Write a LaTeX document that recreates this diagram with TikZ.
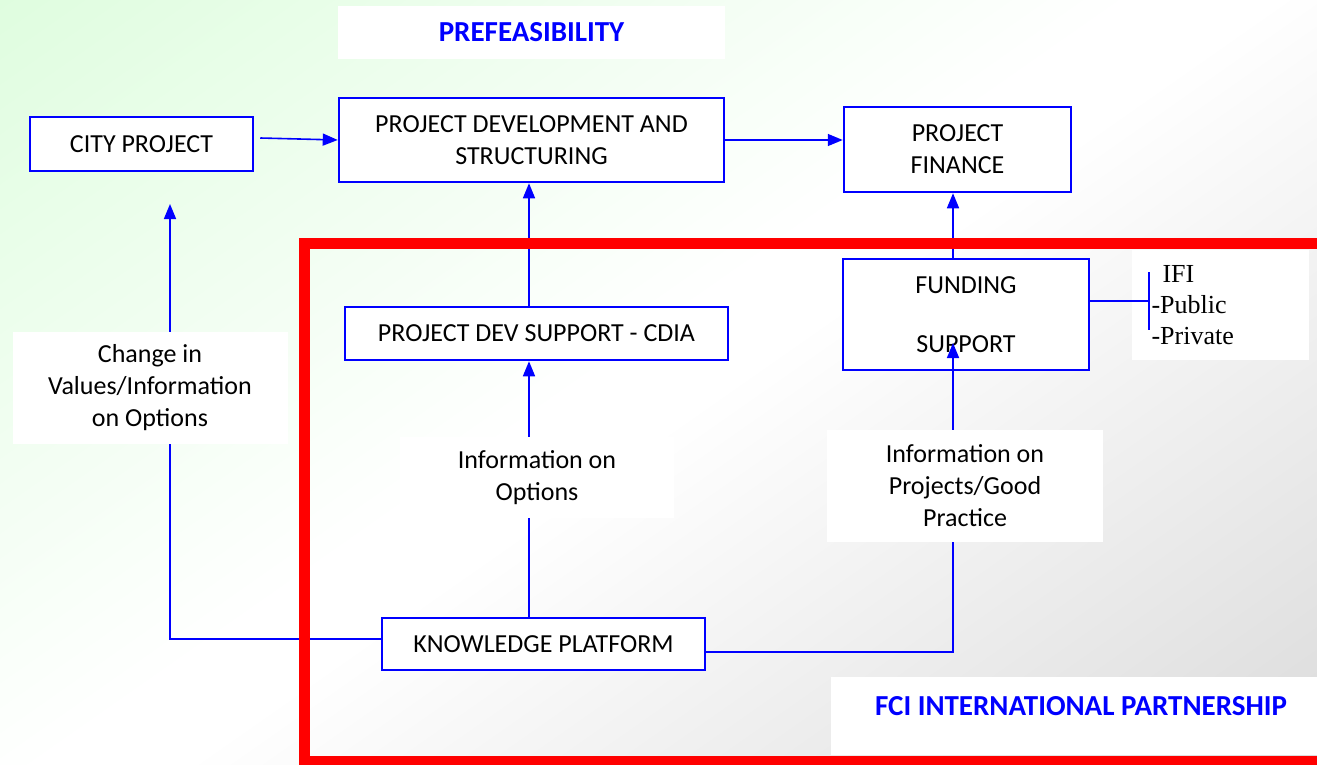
\documentclass[tikz,border=0pt]{standalone}
\usepackage{fontspec}
\setmainfont{Carlito}
\newfontfamily\listfont{Liberation Serif}
\usetikzlibrary{positioning,arrows.meta,calc}
\pgfdeclarelayer{background}
\pgfdeclarelayer{links}
\pgfdeclarelayer{frame}
\pgfsetlayers{background,links,frame,main}
\definecolor{paleGreen}{RGB}{222,253,222}
\definecolor{paleGray}{RGB}{218,218,218}
\pgfdeclarehorizontalshading{wash}{100bp}{color(0bp)=(paleGreen); color(14bp)=(paleGreen);
  color(48bp)=(white); color(52bp)=(white); color(86bp)=(paleGray); color(100bp)=(paleGray)}

\begin{document}
\begin{tikzpicture}[
  x=1pt, y=-1pt,
  >={Triangle[length=15pt,width=12pt]},
  every node/.style={font=\fontsize{26}{32}\selectfont},
  box/.style={draw=blue, line width=2.5pt, fill=white, align=center, inner sep=0pt},
  note/.style={fill=white, align=center, inner sep=0pt},
  title/.style={note, text=blue, font=\fontsize{29}{32}\selectfont\bfseries},
  link/.style={blue, line width=1.6pt}
]
\useasboundingbox (0,0) rectangle (1317,765);

% 背景
\begin{pgfonlayer}{background}
  \shade[shading=wash, shading angle=-55] (0,0) rectangle (1317,765);
\end{pgfonlayer}

% 上段
\node[title, minimum width=387, minimum height=53] (prefeas) at (531.5,32.5) {PREFEASIBILITY};
\node[box, minimum width=223, minimum height=54] (city) at (141.5,144) {CITY PROJECT};
\node[box, minimum width=385, minimum height=84] (pds) at (531.5,140)
  {PROJECT DEVELOPMENT AND\\STRUCTURING};
\node[box, minimum width=227, minimum height=85] (pf) at (957.5,149.5) {PROJECT\\FINANCE};

% 枠の中
\node[box, minimum width=383, minimum height=53] (devsup) at (536.5,333.5)
  {PROJECT DEV SUPPORT - CDIA};
\node[box, minimum width=246, minimum height=111] (funding) at (966,314.5)
  {FUNDING\\[27pt]SUPPORT};
\node[box, minimum width=323, minimum height=52] (kp) at (543.5,644) {KNOWLEDGE PLATFORM};
\node[note, minimum width=177, minimum height=110, align=left, text width=137,
  font=\listfont\fontsize{26}{31}\selectfont] (ifi) at (1220,305)
  {\hspace{11pt}IFI\\-Public\\-Private};

% 矢印のラベル
\node[note, minimum width=275, minimum height=112] (change) at (150,388)
  {Change in\\Values/Information\\on Options};
\node[note, minimum width=274, minimum height=81] (infoopt) at (537,477.5)
  {Information on\\Options};
\node[note, minimum width=276, minimum height=112] (infoproj) at (965,486)
  {Information on\\Projects/Good\\Practice};

\node[note, minimum width=486, minimum height=78] (fciBox) at (1074,716) {};
\node[title] (fci) at (1081,706) {FCI INTERNATIONAL PARTNERSHIP};

\coordinate (cityTip) at (170,204);
\coordinate (spine) at (529,0);
\coordinate (rise) at (953,343);
\coordinate (fork) at (1149,301);

% つなぎ線
\begin{pgfonlayer}{links}
  \draw[link,->] ([xshift=6pt,yshift=6pt]city.east) -- (pds.west);
  \draw[link,->] (pds.east) -- (pds.east -| pf.west);
  \draw[link,->] (spine |- kp.north) -- (spine |- devsup.south);
  \draw[link,->] (spine |- devsup.north) -- (spine |- pds.south);
  \draw[link,->] ([yshift=5pt]kp.west) -| (cityTip);
  \draw[link] ([yshift=-8pt]kp.east) -| (rise |- infoproj.south);
  \draw[link,->] (rise |- funding.north) -- (rise |- pf.south);
\end{pgfonlayer}

\draw[link,->] (rise |- infoproj.north) -- (rise);
\draw[link] (funding.east |- fork) -- (fork);
\draw[link, line width=2.5pt] ([yshift=29pt]fork) -- ([yshift=-29pt]fork);

% 赤い枠
\begin{pgfonlayer}{frame}
  \draw[red, line width=11pt] (304.5,243.5) rectangle (1345,761);
\end{pgfonlayer}
\end{tikzpicture}
\end{document}
